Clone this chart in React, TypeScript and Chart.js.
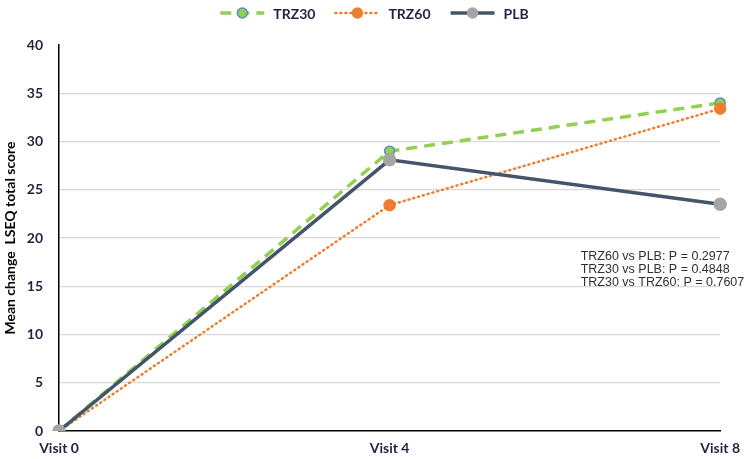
import React, { useEffect, useRef } from "react";
import { Chart, registerables } from "chart.js";

Chart.register(...registerables);

const categories = ["Visit 0", "Visit 4", "Visit 8"];
const trz30 = [0, 29.0, 34.0];
const trz60 = [0, 23.4, 33.4];
const plb = [0, 28.1, 23.5];
const yTicks = [0, 5, 10, 15, 20, 25, 30, 35, 40];
const pValueLines = [
  "TRZ60 vs PLB: P = 0.2977",
  "TRZ30 vs PLB: P = 0.4848",
  "TRZ30 vs TRZ60: P = 0.7607",
];
const pValueYs = [18.1, 16.75, 15.4];

const GREEN = "#92D050";
const BLUE = "#5B8BD0";
const ORANGE = "#ED7D31";
const SLATE = "#44546A";
const GRAY = "#A5A5A5";
const TEXT = "#1F2440";
const FONT = "Lato, 'Open Sans', sans-serif";

const legendItems = [
  { label: "TRZ30", color: GREEN, dash: [11, 7], width: 3.5, cap: "butt", pFill: GREEN, pBorder: BLUE },
  { label: "TRZ60", color: ORANGE, dash: [1, 4], width: 2.5, cap: "round", pFill: ORANGE, pBorder: ORANGE },
  { label: "PLB", color: SLATE, dash: [], width: 3.5, cap: "butt", pFill: GRAY, pBorder: GRAY },
];

const legendPlugin = {
  id: "customLegend",
  afterDraw(chart: any) {
    const ctx = chart.ctx;
    ctx.save();
    ctx.font = `bold 14px ${FONT}`;
    const sampleW = 44;
    const gapSample = 9;
    const gapItem = 20;
    const widths = legendItems.map((it) => sampleW + gapSample + ctx.measureText(it.label).width);
    const total = widths.reduce((a, b) => a + b, 0) + gapItem * (legendItems.length - 1);
    let x = (chart.width - total) / 2;
    const y = 13;
    legendItems.forEach((it, i) => {
      ctx.beginPath();
      ctx.setLineDash(it.dash);
      ctx.lineWidth = it.width;
      ctx.lineCap = it.cap;
      ctx.strokeStyle = it.color;
      ctx.moveTo(x, y);
      ctx.lineTo(x + sampleW, y);
      ctx.stroke();
      ctx.setLineDash([]);
      ctx.beginPath();
      ctx.arc(x + sampleW / 2, y, 5, 0, Math.PI * 2);
      ctx.fillStyle = it.pFill;
      ctx.fill();
      ctx.lineWidth = 1.5;
      ctx.strokeStyle = it.pBorder;
      ctx.stroke();
      ctx.fillStyle = TEXT;
      ctx.textBaseline = "middle";
      ctx.textAlign = "left";
      ctx.fillText(it.label, x + sampleW + gapSample, y + 1);
      x += widths[i] + gapItem;
    });
    ctx.restore();
  },
};

const pValuePlugin = {
  id: "pValues",
  afterDatasetsDraw(chart: any) {
    const ctx = chart.ctx;
    const xs = chart.scales.x;
    const ys = chart.scales.y;
    const x4 = xs.getPixelForValue(1);
    const x8 = xs.getPixelForValue(2);
    const left = x4 + (x8 - x4) * 0.578;
    ctx.save();
    ctx.font = "12.5px 'Liberation Sans', Arial, sans-serif";
    ctx.fillStyle = "#303030";
    ctx.textBaseline = "middle";
    ctx.textAlign = "left";
    pValueLines.forEach((t, i) => {
      ctx.fillText(t, left, ys.getPixelForValue(pValueYs[i]));
    });
    ctx.restore();
  },
};

export default function App() {
  const ref = useRef<HTMLCanvasElement>(null);
  useEffect(() => {
    document.body.style.margin = "0";
    const chart = new Chart(ref.current!, {
      type: "line",
      data: {
        labels: categories,
        datasets: [
          {
            label: "TRZ30",
            data: trz30,
            borderColor: GREEN,
            borderWidth: 3.5,
            borderDash: [11, 7],
            pointBackgroundColor: GREEN,
            pointBorderColor: BLUE,
            pointBorderWidth: 1.5,
            pointRadius: 5,
            tension: 0,
            order: 2,
          },
          {
            label: "TRZ60",
            data: trz60,
            borderColor: ORANGE,
            borderWidth: 2.5,
            borderDash: [1, 4],
            borderCapStyle: "round",
            pointBackgroundColor: ORANGE,
            pointBorderColor: ORANGE,
            pointRadius: 5,
            tension: 0,
            order: 1,
          },
          {
            label: "PLB",
            data: plb,
            borderColor: SLATE,
            borderWidth: 3.5,
            pointBackgroundColor: GRAY,
            pointBorderColor: GRAY,
            pointRadius: 5,
            tension: 0,
            order: 0,
          },
        ],
      },
      options: {
        responsive: false,
        animation: false,
        layout: { padding: { top: 45, right: 28, left: 0, bottom: 0 } },
        plugins: {
          legend: { display: false },
          tooltip: { enabled: false },
        },
        scales: {
          x: {
            offset: false,
            grid: { display: false, drawTicks: false },
            border: { display: true, color: "#000", width: 1.5 },
            ticks: {
              padding: 9,
              color: TEXT,
              font: { family: FONT, size: 14, weight: "bold" },
              maxRotation: 0,
              autoSkip: false,
            },
            afterFit(scale: any) {
              scale.height = 28;
            },
          },
          y: {
            min: 0,
            max: 40,
            afterBuildTicks(scale: any) {
              scale.ticks = yTicks.map((v) => ({ value: v }));
            },
            grid: {
              drawTicks: false,
              color: (c: any) =>
                c.tick && (c.tick.value === 0 || c.tick.value === 40) ? "rgba(0,0,0,0)" : "#D9D9D9",
              lineWidth: 1.3,
            },
            border: { display: true, color: "#000", width: 1.5 },
            ticks: {
              padding: 16,
              color: TEXT,
              font: { family: FONT, size: 14, weight: "bold" },
            },
            title: {
              display: true,
              text: "Mean change  LSEQ total score",
              color: "#000",
              font: { family: FONT, size: 14, weight: "bold" },
              padding: { top: 2, bottom: 0 },
            },
            afterFit(scale: any) {
              scale.width = 59;
            },
          },
        },
      },
      plugins: [legendPlugin, pValuePlugin],
    } as any);
    return () => chart.destroy();
  }, []);
  return <canvas ref={ref} width={749} height={459} style={{ display: "block" }} />;
}
